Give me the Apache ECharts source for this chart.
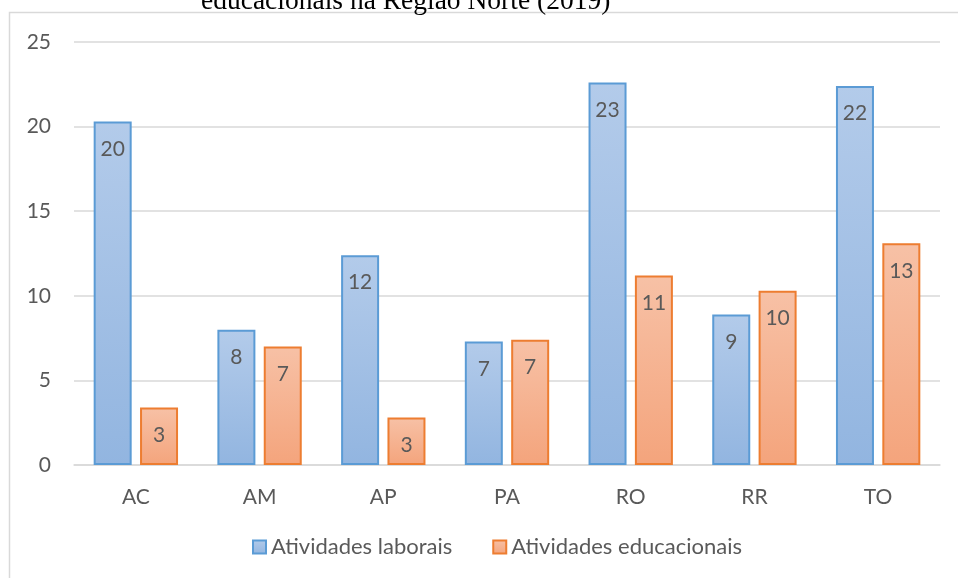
<!DOCTYPE html>
<html>
<head>
<meta charset="utf-8">
<script src="https://cdn.jsdelivr.net/npm/echarts@6/dist/echarts.min.js"></script>
<style>
  html, body { margin: 0; padding: 0; background: #fff; }
  #chart { width: 958px; height: 578px; }
</style>
</head>
<body>
<div id="chart"></div>
<script>
// data
const states = ['AC', 'AM', 'AP', 'PA', 'RO', 'RR', 'TO']
const laborais = [20.3, 8.0, 12.4, 7.3, 22.6, 8.9, 22.4]
const educacionais = [3.4, 7.0, 2.8, 7.4, 11.2, 10.3, 13.1]
const yTicks = [0, 5, 10, 15, 20, 25]

const font = 'Lato, "Open Sans", sans-serif'
const grey = '#595959'

function grad(top, bottom) {
  return new echarts.graphic.LinearGradient(0, 0, 0, 1, [
    { offset: 0, color: top },
    { offset: 1, color: bottom }
  ])
}

const barLabel = {
  show: true,
  position: 'insideTop',
  distance: 17,
  fontFamily: font,
  fontSize: 21,
  color: grey,
  formatter: p => Math.round(p.value)
}

const chart = echarts.init(document.getElementById('chart'))

chart.setOption({
  backgroundColor: '#ffffff',
  animation: false,
  title: {
    text: 'educacionais na Região Norte (2019)',
    left: 196,
    top: -17,
    textStyle: {
      fontFamily: '"Liberation Serif", "Times New Roman", serif',
      fontWeight: 'normal',
      fontSize: 27.5,
      color: '#000'
    }
  },
  graphic: [{
    type: 'rect',
    shape: { x: 9.5, y: 12.5, width: 1200, height: 1200 },
    style: { fill: null, stroke: '#d9d9d9', lineWidth: 1.5 },
    silent: true,
    z: -1
  }],
  legend: {
    bottom: 15,
    left: 247,
    icon: 'rect',
    itemWidth: 13,
    itemHeight: 13,
    itemGap: 40,
    textStyle: { fontFamily: font, fontSize: 22, color: grey },
    data: ['Atividades laborais', 'Atividades educacionais']
  },
  grid: {
    left: 74,
    right: 18,
    top: 42,
    bottom: 113
  },
  xAxis: {
    type: 'category',
    data: states,
    axisTick: { show: false },
    axisLine: { lineStyle: { color: '#d9d9d9', width: 1.5 } },
    axisLabel: { fontFamily: font, fontSize: 21, color: grey, margin: 22 }
  },
  yAxis: {
    type: 'value',
    min: yTicks[0],
    max: yTicks[yTicks.length - 1],
    interval: 5,
    axisLine: { show: false },
    axisTick: { show: false },
    axisLabel: { fontFamily: font, fontSize: 21, color: grey, margin: 23 },
    splitLine: { lineStyle: { color: '#d9d9d9', width: 1.5 } }
  },
  series: [{
    name: 'Atividades laborais',
    type: 'bar',
    data: laborais,
    barWidth: 38,
    barGap: '22%',
    itemStyle: {
      color: grad('#b3cbea', '#92b5e0'),
      borderColor: '#5b9bd5',
      borderWidth: 2
    },
    label: barLabel
  }, {
    name: 'Atividades educacionais',
    type: 'bar',
    data: educacionais,
    barWidth: 38,
    itemStyle: {
      color: grad('#f7c1a6', '#f4a47c'),
      borderColor: '#ed7d31',
      borderWidth: 2
    },
    label: barLabel
  }]
})
</script>
</body>
</html>
